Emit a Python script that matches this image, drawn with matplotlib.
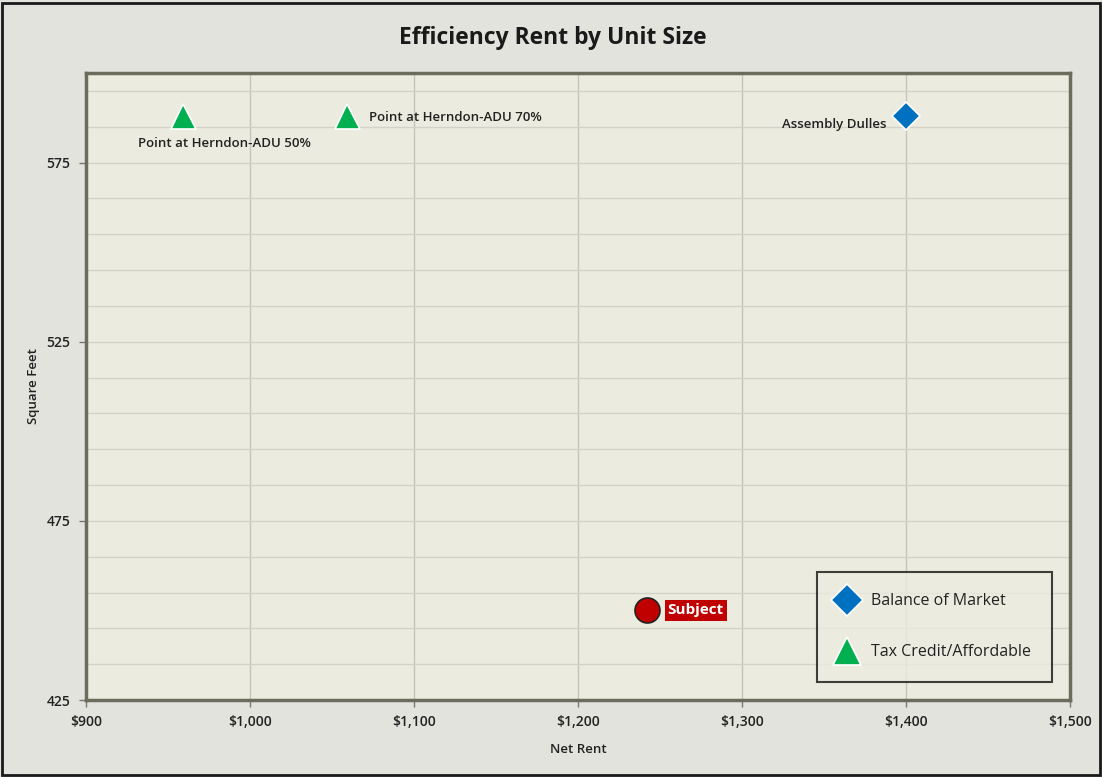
import matplotlib.pyplot as plt
from matplotlib.patches import Rectangle
from matplotlib.ticker import FuncFormatter, MultipleLocator

plt.rcParams['font.family'] = ['Open Sans', 'DejaVu Sans']

# Data
market_names = ['Assembly Dulles']
market_rent = [1400]
market_sqft = [588]

afford_names = ['Point at Herndon-ADU 50%', 'Point at Herndon-ADU 70%']
afford_rent = [959, 1059]
afford_sqft = [588, 588]

subject_rent = [1242]
subject_sqft = [450]

x_ticks = [900, 1000, 1100, 1200, 1300, 1400, 1500]
y_ticks = [425, 475, 525, 575]

fig = plt.figure(figsize=(11.02, 7.77), dpi=100)
fig.patch.set_facecolor('#e3e3de')
fig.patches.append(Rectangle((0.002, 0.002), 0.996, 0.994, transform=fig.transFigure,
                             fill=False, edgecolor='#1a1a1a', linewidth=2))

ax = fig.add_axes([0.078, 0.099, 0.893, 0.807])
ax.set_facecolor('#ebebdf')

ax.set_xlim(900, 1500)
ax.set_ylim(425, 600)
ax.set_xticks(x_ticks)
ax.set_yticks(y_ticks)
ax.yaxis.set_minor_locator(MultipleLocator(10, offset=5))
ax.xaxis.set_major_formatter(FuncFormatter(lambda v, p: '${:,.0f}'.format(v)))

ax.grid(True, which='major', axis='x', color='#c4c4bb', linewidth=1)
ax.grid(True, which='both', axis='y', color='#d2d2c8', linewidth=1)
ax.set_axisbelow(True)
ax.tick_params(which='minor', length=0)
ax.tick_params(which='major', length=5, width=1, color='#777777', direction='out',
               labelsize=10, pad=6)
for lbl in ax.get_xticklabels() + ax.get_yticklabels():
    lbl.set_fontweight('semibold')
    lbl.set_color('#222222')
for sp in ax.spines.values():
    sp.set_color('#6b6c5c')
    sp.set_linewidth(2.5)

ax.plot(market_rent, market_sqft, linestyle='none', marker='D', markersize=14,
        color='#0070c0', markeredgecolor='white', markeredgewidth=1.2,
        label='Balance of Market', zorder=3)
ax.plot(afford_rent, afford_sqft, linestyle='none', marker='^', markersize=18,
        color='#00b050', markeredgecolor='white', markeredgewidth=1.2,
        label='Tax Credit/Affordable', zorder=3)
ax.plot(subject_rent, subject_sqft, linestyle='none', marker='o', markersize=18,
        color='#c00000', markeredgecolor='#222222', markeredgewidth=1.2, zorder=3)

lab_kw = dict(textcoords='offset points', fontsize=9.5, fontweight='semibold', color='#222222')
ax.annotate(afford_names[0], (afford_rent[0], afford_sqft[0]), xytext=(30, -20),
            ha='center', va='center', **lab_kw)
ax.annotate(afford_names[1], (afford_rent[1], afford_sqft[1]), xytext=(16, -1),
            ha='left', va='center', **lab_kw)
ax.annotate(market_names[0], (market_rent[0], market_sqft[0]), xytext=(-14, -6),
            ha='right', va='center', **lab_kw)
ax.annotate('Subject', (subject_rent[0], subject_sqft[0]), xytext=(15, 0),
            textcoords='offset points', ha='left', va='center', fontsize=11,
            fontweight='bold', color='white',
            bbox=dict(boxstyle='square,pad=0.2', facecolor='#c00000', edgecolor='none'))

ax.set_xlabel('Net Rent', fontsize=9.5, fontweight='semibold', color='#222222', labelpad=10)
ax.set_ylabel('Square Feet', fontsize=9.5, fontweight='semibold', color='#222222', labelpad=5)
fig.text(0.502, 0.951, 'Efficiency Rent by Unit Size', ha='center', va='center',
         fontsize=16.5, fontweight='bold', color='#1a1a1a')

leg = ax.legend(loc='lower right', bbox_to_anchor=(0.982, 0.029), frameon=True,
                fancybox=False, fontsize=11.5, labelspacing=2.2, borderpad=1.35,
                handletextpad=1.0, markerscale=1.15, borderaxespad=0, handlelength=1.0)
leg.get_frame().set_edgecolor('#111111')
leg.get_frame().set_linewidth(1.5)
leg.get_frame().set_facecolor('#ebebdf')
for t in leg.get_texts():
    t.set_color('#222222')

fig.savefig('out.png', dpi=100, facecolor=fig.get_facecolor())
